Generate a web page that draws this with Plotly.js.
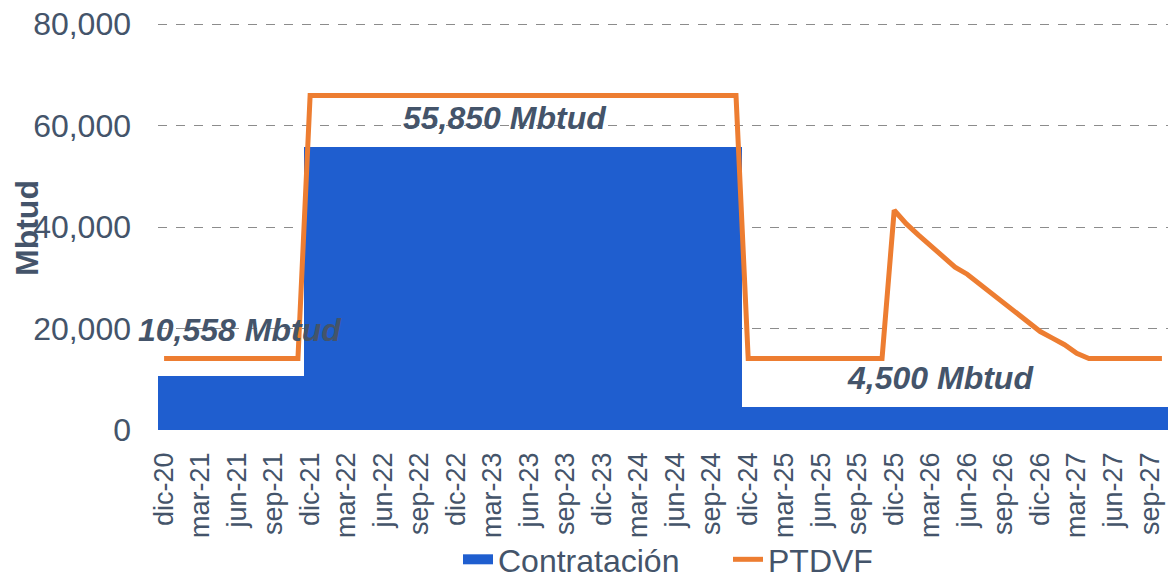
<!DOCTYPE html>
<html>
<head>
<meta charset="utf-8">
<script src="https://cdn.plot.ly/plotly-3.0.1.min.js"></script>
<style>
  html, body { margin: 0; padding: 0; background: #fff; }
  #plot { width: 1168px; height: 578px; }
</style>
</head>
<body>
<div id="plot"></div>
<script>
// meses (eje de categorias)
const meses = [
  'dic-20','ene-21','feb-21','mar-21','abr-21','may-21','jun-21','jul-21','ago-21','sep-21','oct-21','nov-21',
  'dic-21','ene-22','feb-22','mar-22','abr-22','may-22','jun-22','jul-22','ago-22','sep-22','oct-22','nov-22',
  'dic-22','ene-23','feb-23','mar-23','abr-23','may-23','jun-23','jul-23','ago-23','sep-23','oct-23','nov-23',
  'dic-23','ene-24','feb-24','mar-24','abr-24','may-24','jun-24','jul-24','ago-24','sep-24','oct-24','nov-24',
  'dic-24','ene-25','feb-25','mar-25','abr-25','may-25','jun-25','jul-25','ago-25','sep-25','oct-25','nov-25',
  'dic-25','ene-26','feb-26','mar-26','abr-26','may-26','jun-26','jul-26','ago-26','sep-26','oct-26','nov-26',
  'dic-26','ene-27','feb-27','mar-27','abr-27','may-27','jun-27','jul-27','ago-27','sep-27','oct-27'
];

// Contratación (Mbtud)
const contratacion = [
  10558,10558,10558,10558,10558,10558,10558,10558,10558,10558,10558,10558,
  55850,55850,55850,55850,55850,55850,55850,55850,55850,55850,55850,55850,
  55850,55850,55850,55850,55850,55850,55850,55850,55850,55850,55850,55850,
  55850,55850,55850,55850,55850,55850,55850,55850,55850,55850,55850,55850,
  4500,4500,4500,4500,4500,4500,4500,4500,4500,4500,4500,4500,
  4500,4500,4500,4500,4500,4500,4500,4500,4500,4500,4500,4500,
  4500,4500,4500,4500,4500,4500,4500,4500,4500,4500,4500
];

// PTDVF (Mbtud)
const ptdvf = [
  14100,14100,14100,14100,14100,14100,14100,14100,14100,14100,14100,14100,
  65900,65900,65900,65900,65900,65900,65900,65900,65900,65900,65900,65900,
  65900,65900,65900,65900,65900,65900,65900,65900,65900,65900,65900,65900,
  65900,65900,65900,65900,65900,65900,65900,65900,65900,65900,65900,65900,
  14100,14100,14100,14100,14100,14100,14100,14100,14100,14100,14100,14100,
  43300,40600,38400,36200,34000,32100,30700,28800,26900,25000,23100,21200,
  19400,18100,16800,15100,14100,14100,14100,14100,14100,14100,14100
];

// etiquetas de nivel contratado
const etiquetas = ['10,558 Mbtud', '55,850 Mbtud', '4,500 Mbtud'];
const etiquetaX = [6.2, 28, 63.8];
const etiquetaY = [19700, 61500, 10200];

const yTicks = [0, 20000, 40000, 60000, 80000];

const txtColor = '#44546A';
const azul = '#1F5ECF';
const naranja = '#ED7D31';
const fuente = 'Arial, "Liberation Sans", sans-serif';

const traces = [
  {
    x: meses,
    y: contratacion,
    type: 'bar',
    name: 'Contratación',
    showlegend: false,
    marker: { color: azul, line: { width: 0 } }
  },
  {
    // solo para la leyenda (rectangulo ancho)
    x: [null],
    y: [null],
    type: 'scatter',
    mode: 'lines',
    name: 'Contratación',
    line: { color: azul, width: 16 }
  },
  {
    x: meses,
    y: ptdvf,
    type: 'scatter',
    mode: 'lines',
    name: 'PTDVF',
    line: { color: naranja, width: 5 }
  }
];

const layout = {
  width: 1168,
  height: 578,
  margin: { l: 158, r: 0, t: 23, b: 148 },
  paper_bgcolor: '#fff',
  plot_bgcolor: '#fff',
  bargap: 0,
  font: { family: fuente, color: txtColor, size: 32 },
  showlegend: true,
  legend: {
    orientation: 'h',
    xref: 'container', yref: 'container',
    x: 458 / 1168, xanchor: 'left',
    y: 0.032, yanchor: 'middle',
    bgcolor: 'rgba(0,0,0,0)',
    entrywidth: 225,
    font: { size: 32, color: txtColor },
    traceorder: 'normal'
  },
  xaxis: {
    type: 'category',
    range: [-0.5, meses.length - 0.5],
    automargin: false,
    tickmode: 'linear',
    tick0: 0,
    dtick: 3,
    tickangle: -90,
    ticks: '',
    ticklabelstandoff: 16,
    tickfont: { size: 27, color: txtColor },
    showgrid: false,
    showline: false,
    zeroline: false
  },
  yaxis: {
    range: [0, 80200],
    automargin: false,
    tickvals: yTicks,
    tickformat: ',',
    ticks: '',
    ticklabelstandoff: 26,
    tickfont: { size: 32, color: txtColor },
    showgrid: true,
    gridcolor: '#8c8c8c',
    gridwidth: 1,
    griddash: 'dash',
    zeroline: false,
    showline: false
  },
  annotations: etiquetas.map((t, i) => ({
    x: etiquetaX[i],
    y: etiquetaY[i],
    xref: 'x', yref: 'y',
    text: '<b><i>' + t + '</i></b>',
    showarrow: false,
    font: { size: 32, color: txtColor, family: fuente }
  })).concat([{
    x: (27 - 158) / 1010, xref: 'paper', xanchor: 'center',
    y: (430 - 228) / 407, yref: 'paper', yanchor: 'middle',
    text: '<b>Mbtud</b>',
    textangle: -90,
    showarrow: false,
    font: { size: 32, color: txtColor, family: fuente }
  }])
};

Plotly.newPlot('plot', traces, layout, { displayModeBar: false, staticPlot: true });
</script>
</body>
</html>
